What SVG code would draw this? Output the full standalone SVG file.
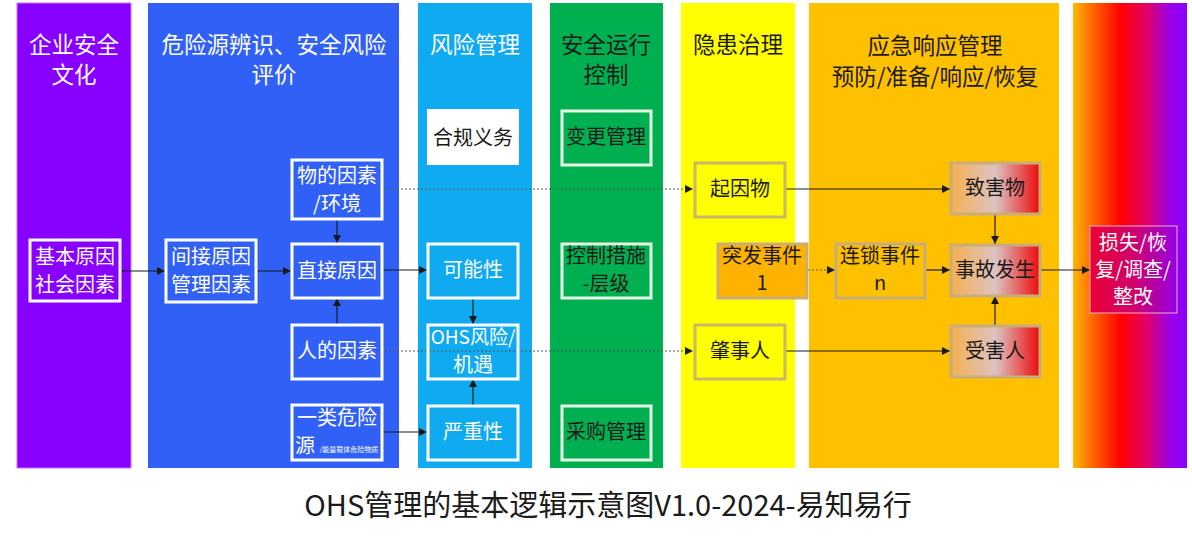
<svg xmlns="http://www.w3.org/2000/svg" width="1192" height="540" viewBox="0 0 1192 540">
<style>
text{font-family:"Noto Sans CJK SC","Liberation Sans",sans-serif;text-anchor:middle}
.ct{font-size:22.5px}
.w{fill:#ffffff}
.d{fill:#1a1a1a}
.nt{font-size:20px}
.nw{fill:none;stroke:#ffffff;stroke-width:3}
.ng{fill:none;stroke:#e6f5e6;stroke-width:3}
.ny{fill:#ffff00;stroke:#c8b868;stroke-width:3}
.no{stroke:#c9ad78;stroke-width:3}
.ln{fill:none;stroke:#1a1a1a;stroke-width:1.2}
.dl{fill:none;stroke:#555555;stroke-width:1;stroke-dasharray:2 2}
</style>
<defs>
<marker id="ah" markerUnits="userSpaceOnUse" markerWidth="8" markerHeight="8" refX="8" refY="4" orient="auto">
<path d="M0,0 L8,4 L0,8 z" fill="#1a1a1a"/>
</marker>
<linearGradient id="gEnd" x1="0" y1="0" x2="1" y2="0">
<stop offset="0" stop-color="#ffb800"/>
<stop offset="0.2" stop-color="#ff5a00"/>
<stop offset="0.42" stop-color="#ff0000"/>
<stop offset="0.65" stop-color="#e0006a"/>
<stop offset="0.85" stop-color="#9a00e6"/>
<stop offset="1" stop-color="#8b00ff"/>
</linearGradient>
<linearGradient id="gHarm" x1="0" y1="0" x2="1" y2="0">
<stop offset="0" stop-color="#f5b050"/>
<stop offset="0.5" stop-color="#dcc2c2"/>
<stop offset="1" stop-color="#ee0a0a"/>
</linearGradient>
<linearGradient id="gLoss" x1="0" y1="0" x2="1" y2="0">
<stop offset="0" stop-color="#ea0035"/>
<stop offset="0.5" stop-color="#d0006a"/>
<stop offset="1" stop-color="#9600e6"/>
</linearGradient>
</defs>
<rect x="0" y="0" width="1192" height="540" fill="#ffffff"/>

<g id="columns">
<rect x="17" y="3" width="114" height="465" fill="#8800ff" stroke="#d070ff" stroke-width="1"/>
<rect x="148" y="3" width="251" height="465" fill="#3060f5"/>
<rect x="418" y="3" width="114" height="465" fill="#10aaf0"/>
<rect x="550" y="3" width="113" height="465" fill="#00b050"/>
<rect x="681" y="3" width="114" height="465" fill="#ffff00"/>
<rect x="809" y="3" width="250" height="465" fill="#ffc000"/>
<rect x="1073" y="3" width="114" height="465" fill="url(#gEnd)"/>
</g>

<g id="column-titles">
<text class="ct w" x="74" y="53">企业安全</text>
<text class="ct w" x="74" y="83">文化</text>
<text class="ct w" x="274" y="53">危险源辨识、安全风险</text>
<text class="ct w" x="274" y="83">评价</text>
<text class="ct w" x="475" y="53">风险管理</text>
<text class="ct d" x="606" y="53">安全运行</text>
<text class="ct d" x="606" y="83">控制</text>
<text class="ct d" x="738" y="53">隐患治理</text>
<text class="ct d" x="935" y="54">应急响应管理</text>
<text class="ct d" x="935" y="85">预防/准备/响应/恢复</text>
</g>

<g id="connectors">
<path class="ln" d="M121,271 H165" marker-end="url(#ah)"/>
<path class="ln" d="M257,271 H291" marker-end="url(#ah)"/>
<path class="ln" d="M337,219 V243" marker-end="url(#ah)"/>
<path class="ln" d="M337,324 V298" marker-end="url(#ah)"/>
<path class="ln" d="M383,270 H427" marker-end="url(#ah)"/>
<path class="ln" d="M383,432 H427" marker-end="url(#ah)"/>
<path class="ln" d="M473,298 V324" marker-end="url(#ah)"/>
<path class="ln" d="M473,405 V379" marker-end="url(#ah)"/>
<path class="dl" d="M385,189 H693" marker-end="url(#ah)"/>
<path class="dl" d="M385,351 H693" marker-end="url(#ah)"/>
<path class="ln" d="M786,189 H950" marker-end="url(#ah)"/>
<path class="ln" d="M786,351 H950" marker-end="url(#ah)"/>
<path class="dl" d="M808,270 H835" marker-end="url(#ah)"/>
<path class="ln" d="M926,270 H950" marker-end="url(#ah)"/>
<path class="ln" d="M995,214 V244" marker-end="url(#ah)"/>
<path class="ln" d="M995,326 V296" marker-end="url(#ah)"/>
<path class="ln" d="M1041,270 H1090" marker-end="url(#ah)"/>
</g>

<g id="n-basic">
<rect class="nw" x="30" y="240" width="90" height="61"/>
<text class="nt w" x="75" y="264">基本原因</text>
<text class="nt w" x="75" y="292">社会因素</text>
</g>
<g id="n-indirect">
<rect class="nw" x="166" y="240" width="90" height="62"/>
<text class="nt w" x="211" y="264">间接原因</text>
<text class="nt w" x="211" y="292">管理因素</text>
</g>
<g id="n-material">
<rect class="nw" x="292" y="160" width="90" height="59"/>
<text class="nt w" x="337" y="183">物的因素</text>
<text class="nt w" x="337" y="211">/环境</text>
</g>
<g id="n-direct">
<rect class="nw" x="292" y="244" width="90" height="54"/>
<text class="nt w" x="337" y="278">直接原因</text>
</g>
<g id="n-human">
<rect class="nw" x="292" y="325" width="90" height="54"/>
<text class="nt w" x="337" y="358">人的因素</text>
</g>
<g id="n-hazard1">
<rect class="nw" x="292" y="405" width="90" height="55"/>
<text class="nt w" x="337" y="425">一类危险</text>
<text class="w" x="305" y="453" style="font-size:20px">源</text>
<text class="w" x="349" y="452" style="font-size:7px">/能量载体危险物质</text>
</g>
<g id="n-compliance">
<rect x="427" y="109" width="92" height="56" fill="#ffffff"/>
<text class="nt d" x="473" y="145">合规义务</text>
</g>
<g id="n-possible">
<rect class="nw" x="428" y="244" width="90" height="54"/>
<text class="nt w" x="473" y="277">可能性</text>
</g>
<g id="n-ohs">
<rect class="nw" x="428" y="325" width="90" height="54"/>
<text class="nt w" x="473" y="344" style="font-size:19px">OHS风险/</text>
<text class="nt w" x="473" y="372">机遇</text>
</g>
<g id="n-severity">
<rect class="nw" x="428" y="406" width="90" height="54"/>
<text class="nt w" x="473" y="439">严重性</text>
</g>
<g id="n-change">
<rect class="ng" x="562" y="111" width="89" height="54"/>
<text class="nt d" x="606" y="144">变更管理</text>
</g>
<g id="n-control">
<rect class="ng" x="562" y="244" width="89" height="54"/>
<text class="nt d" x="606" y="263">控制措施</text>
<text class="nt d" x="606" y="291">-层级</text>
</g>
<g id="n-purchase">
<rect class="ng" x="562" y="406" width="89" height="54"/>
<text class="nt d" x="606" y="439">采购管理</text>
</g>
<g id="n-cause">
<rect class="ny" x="695" y="163" width="90" height="54"/>
<text class="nt d" x="740" y="196">起因物</text>
</g>
<g id="n-perpetrator">
<rect class="ny" x="695" y="325" width="90" height="54"/>
<text class="nt d" x="740" y="358">肇事人</text>
</g>
<g id="n-sudden">
<rect class="no" x="718" y="244" width="89" height="54" fill="#ffb300"/>
<text class="nt d" x="762" y="263">突发事件</text>
<text class="nt d" x="762" y="290">1</text>
</g>
<g id="n-chain">
<rect class="no" x="836" y="244" width="89" height="54" fill="#ffc000"/>
<text class="nt d" x="880" y="263">连锁事件</text>
<text class="nt d" x="880" y="290">n</text>
</g>
<g id="n-harm">
<rect class="no" x="951" y="163" width="89" height="51" fill="url(#gHarm)"/>
<text class="nt d" x="995" y="195">致害物</text>
</g>
<g id="n-accident">
<rect class="no" x="951" y="245" width="89" height="51" fill="url(#gHarm)"/>
<text class="nt d" x="995" y="277">事故发生</text>
</g>
<g id="n-victim">
<rect class="no" x="951" y="326" width="89" height="51" fill="url(#gHarm)"/>
<text class="nt d" x="995" y="358">受害人</text>
</g>
<g id="n-loss">
<rect x="1090" y="226" width="87" height="87" fill="url(#gLoss)" stroke="#f0b0d0" stroke-width="1"/>
<text class="nt w" x="1133" y="250">损失/恢</text>
<text class="nt w" x="1133" y="277">复/调查/</text>
<text class="nt w" x="1133" y="304">整改</text>
</g>

<text id="caption" x="608" y="516" style="font-size:29px" fill="#1a1a1a">OHS管理的基本逻辑示意图V1.0-2024-易知易行</text>
</svg>
